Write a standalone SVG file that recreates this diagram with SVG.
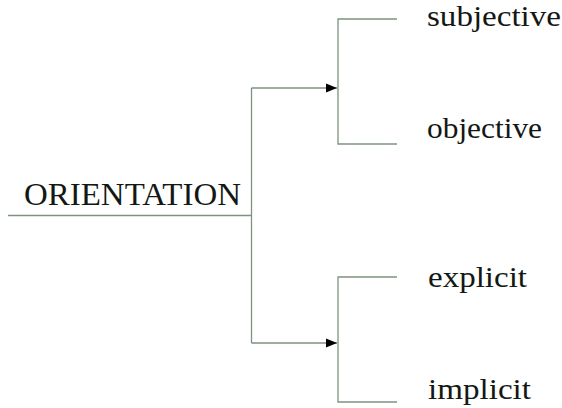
<svg xmlns="http://www.w3.org/2000/svg" width="562" height="408" viewBox="0 0 562 408">
<style>
.ln{fill:none;stroke:#7d927f;stroke-width:1.3}
.t{font-family:"Liberation Serif","Times New Roman",serif;fill:#141814}
</style>
<defs>
<marker id="ah" markerUnits="userSpaceOnUse" markerWidth="12" markerHeight="10" refX="11" refY="5" orient="auto">
<path d="M0,0.5 L11,5 L0,9.5 Z" fill="#000"/>
</marker>
</defs>
<rect width="562" height="408" fill="#fff"/>
<g id="connectors">
<path class="ln" d="M8,215.5 H251.5"/>
<path class="ln" d="M251.5,88 V343"/>
<path class="ln" d="M251.5,88 H337" marker-end="url(#ah)"/>
<path class="ln" d="M251.5,343 H337" marker-end="url(#ah)"/>
<path class="ln" d="M397,19 H338 V144 H397"/>
<path class="ln" d="M397,277 H338 V402 H397"/>
</g>
<g id="orientation"><text class="t" x="24" y="205" font-size="31" textLength="217" lengthAdjust="spacingAndGlyphs">ORIENTATION</text></g>
<g id="subjective"><text class="t" x="427" y="26" font-size="30" textLength="134" lengthAdjust="spacingAndGlyphs">subjective</text></g>
<g id="objective"><text class="t" x="427" y="138" font-size="30" textLength="115" lengthAdjust="spacingAndGlyphs">objective</text></g>
<g id="explicit"><text class="t" x="428" y="287" font-size="30" textLength="99" lengthAdjust="spacingAndGlyphs">explicit</text></g>
<g id="implicit"><text class="t" x="428" y="399" font-size="30" textLength="103" lengthAdjust="spacingAndGlyphs">implicit</text></g>
</svg>
